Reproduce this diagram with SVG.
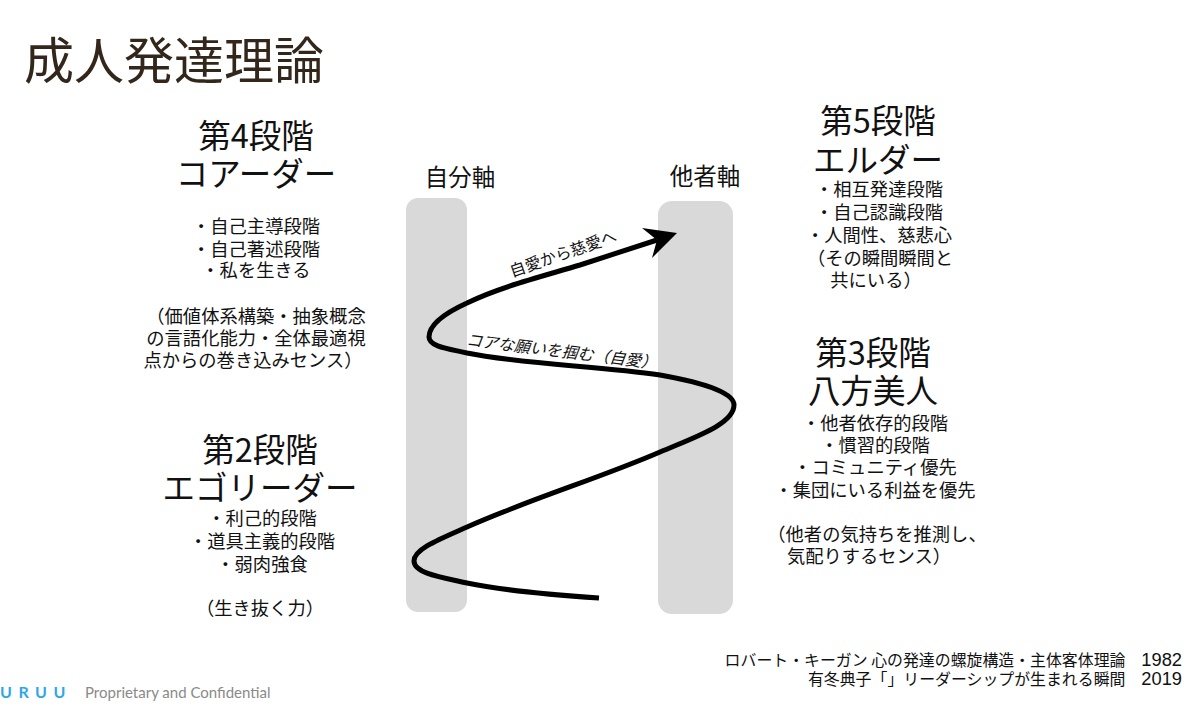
<svg xmlns="http://www.w3.org/2000/svg" width="1200" height="706" viewBox="0 0 1200 706">
<style>
text{font-family:"Noto Sans CJK JP","Liberation Sans",sans-serif;fill:#111;text-anchor:middle}
.h{font-size:32.5px}.b{font-size:18.3px}.a{font-size:23.5px}.l{font-size:16px}
.r{font-size:15.9px;text-anchor:end}
.n{font-family:"Liberation Sans",sans-serif;font-size:18.3px}
</style>
<rect width="1200" height="706" fill="#fff"/>
<text x="24" y="79" font-size="50" style="text-anchor:start;fill:#33261a">成人発達理論</text>
<g id="axis-self"><rect x="406" y="198" width="61" height="414" rx="12" fill="#d9d9d9"/><text class="a" x="460" y="186">自分軸</text></g>
<g id="axis-other"><rect x="658" y="201" width="75" height="413" rx="14" fill="#d9d9d9"/><text class="a" x="705" y="185">他者軸</text></g>
<g id="connectors">
<path d="M599 598C555 595 505 591 467 583C440 577 414 573 414 561C414 549 440 539 467 527C530 499 600 478 660 452C695 437 734 424 734 405C734 392 700 382 660 375C600 366 520 364 467 353C450 349 429 347 429 337C429 325 445 313 467 303C500 287 540 277 580 265L657 240" fill="none" stroke="#000" stroke-width="5"/>
<path d="M677 233L642 228L657 240L652 258Z" fill="#000"/>
<text class="l" transform="translate(565 259) rotate(-19)">自愛から慈愛へ</text>
<text class="l" transform="translate(561 357) rotate(7)" style="font-style:italic">コアな願いを掴む（自愛）</text>
</g>
<g id="stage4">
<text class="h" x="256" y="148">第4段階</text><text class="h" x="256" y="186">コアーダー</text>
<text class="b" x="256" y="233">・自己主導段階</text><text class="b" x="256" y="256">・自己著述段階</text><text class="b" x="256" y="277">・私を生きる</text>
<text class="b" x="256" y="323">（価値体系構築・抽象概念</text><text class="b" x="256" y="345">の言語化能力・全体最適視</text><text class="b" x="253" y="367">点からの巻き込みセンス）</text>
</g>
<g id="stage2">
<text class="h" x="260" y="462">第2段階</text><text class="h" x="260" y="500">エゴリーダー</text>
<text class="b" x="262" y="525">・利己的段階</text><text class="b" x="262" y="548">・道具主義的段階</text><text class="b" x="262" y="571">・弱肉強食</text>
<text class="b" x="260" y="615">（生き抜く力）</text>
</g>
<g id="stage5">
<text class="h" x="878" y="133">第5段階</text><text class="h" x="878" y="172">エルダー</text>
<text class="b" x="879" y="196">・相互発達段階</text><text class="b" x="879" y="219">・自己認識段階</text><text class="b" x="879" y="242">・人間性、慈悲心</text>
<text class="b" x="880" y="265">（その瞬間瞬間と</text><text class="b" x="876" y="287">共にいる）</text>
</g>
<g id="stage3">
<text class="h" x="873" y="365">第3段階</text><text class="h" x="873" y="403">八方美人</text>
<text class="b" x="875" y="430">・他者依存的段階</text><text class="b" x="875" y="452">・慣習的段階</text><text class="b" x="875" y="474">・コミュニティ優先</text><text class="b" x="875" y="497">・集団にいる利益を優先</text>
<text class="b" x="877" y="541">（他者の気持ちを推測し、</text><text class="b" x="869" y="563">気配りするセンス）</text>
</g>
<g id="references">
<text class="r" x="1182" y="666">ロバート・キーガン 心の発達の螺旋構造・主体客体理論　<tspan class="n">1982</tspan></text>
<text class="r" x="1182" y="685">有冬典子「」リーダーシップが生まれる瞬間　<tspan class="n">2019</tspan></text>
</g>
<g id="footer">
<text x="0" y="698" font-size="16" font-weight="700" style="text-anchor:start;fill:#2ea7e8;font-family:'Lato',sans-serif;letter-spacing:6.5px">URUU</text>
<text x="85" y="698" font-size="15" style="text-anchor:start;fill:#8a8a8a;font-family:'Lato',sans-serif">Proprietary and Confidential</text>
</g>
</svg>
